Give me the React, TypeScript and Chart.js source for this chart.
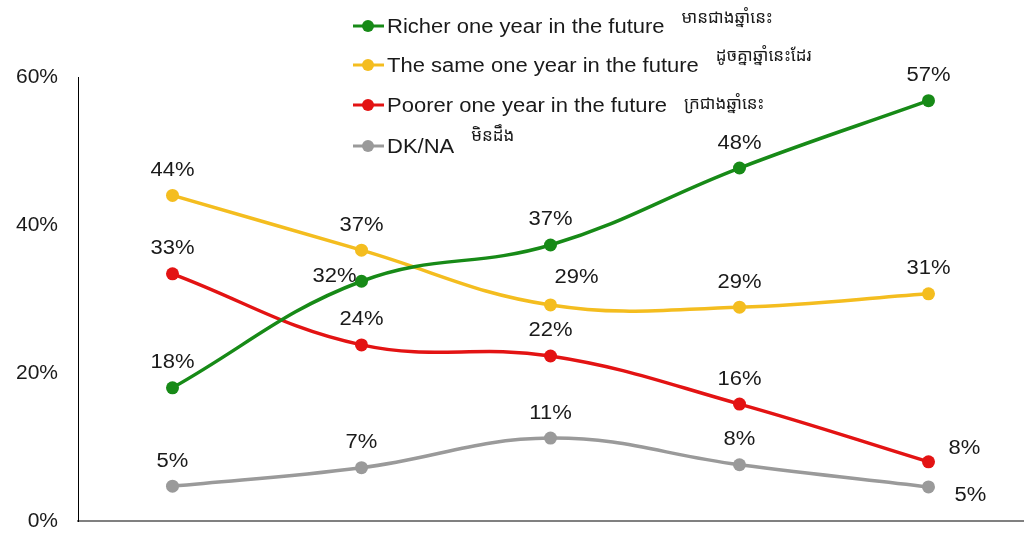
import React, { useEffect, useRef } from "react";
import { Chart, registerables } from "chart.js";

Chart.register(...registerables);

// Survey waves (no labels are printed on the x axis)
const waves = ["Wave 1", "Wave 2", "Wave 3", "Wave 4", "Wave 5"];

const richer = [18, 32.4, 37.3, 47.7, 56.8];
const same = [44, 36.6, 29.2, 28.9, 30.7];
const poorer = [33.4, 23.8, 22.3, 15.8, 8];
const dkna = [4.7, 7.2, 11.2, 7.6, 4.6];

const seriesNames = [
  "Richer one year in the future",
  "The same one year in the future",
  "Poorer one year in the future",
  "DK/NA",
];
const seriesKhmer = ["មានជាងឆ្នាំនេះ", "ដូចគ្នាឆ្នាំនេះដែរ", "ក្រជាងឆ្នាំនេះ", "មិនដឹង"];
const seriesColors = ["#178a17", "#f4bd1f", "#e31313", "#9a9a9a"];

const yTicks = [0, 20, 40, 60];

const FONT = "'Liberation Sans', Arial, Helvetica, sans-serif";
const KHMER_FONT = "'Noto Sans Khmer', 'Khmer OS', 'Noto Sans', sans-serif";
const SX = 1.1; // the reference text is a bit wider than Arial

// label nudges (dx, dy from the point) where the default "above" would collide
const labelNudge: Record<string, [number, number]> = {
  "0-1": [-27, -5],
  "1-2": [26, -27],
  "2-4": [36, -13],
  "3-4": [42, 9],
};

function wideText(ctx: CanvasRenderingContext2D, text: string, x: number, y: number, align: CanvasTextAlign) {
  ctx.save();
  ctx.translate(x, y);
  ctx.scale(SX, 1);
  ctx.textAlign = align;
  ctx.fillText(text, 0, 0);
  ctx.restore();
}

const labelsPlugin = {
  id: "pointLabels",
  afterDatasetsDraw(chart: Chart) {
    const ctx = chart.ctx;
    ctx.save();
    ctx.font = `20px ${FONT}`;
    ctx.fillStyle = "#1a1a1a";
    ctx.textBaseline = "middle";
    chart.data.datasets.forEach((ds, di) => {
      const meta = chart.getDatasetMeta(di);
      meta.data.forEach((pt: any, i) => {
        const v = ds.data[i] as number;
        const [dx, dy] = labelNudge[`${di}-${i}`] || [0, -25];
        wideText(ctx, `${Math.round(v)}%`, pt.x + dx, pt.y + dy, "center");
      });
    });
    ctx.restore();
  },
};

const legendPlugin = {
  id: "sideLegend",
  afterDraw(chart: Chart) {
    const ctx = chart.ctx;
    const baselines = [33, 72, 112, 153];
    const khmerLift = [-15, -16, -8, -17];
    ctx.save();
    seriesNames.forEach((name, i) => {
      const base = baselines[i];
      const cy = base - 7;
      ctx.strokeStyle = seriesColors[i];
      ctx.fillStyle = seriesColors[i];
      ctx.lineWidth = 3;
      ctx.beginPath();
      ctx.moveTo(353, cy);
      ctx.lineTo(384, cy);
      ctx.stroke();
      ctx.beginPath();
      ctx.arc(368, cy, 6, 0, Math.PI * 2);
      ctx.fill();

      ctx.font = `20px ${FONT}`;
      ctx.fillStyle = "#1a1a1a";
      ctx.textBaseline = "alphabetic";
      wideText(ctx, name, 387, base, "left");
      const w = ctx.measureText(name).width * SX;

      ctx.font = `17px ${KHMER_FONT}`;
      ctx.textBaseline = "middle";
      ctx.textAlign = "left";
      ctx.fillText(seriesKhmer[i], 387 + w + 17, base + khmerLift[i]);
    });
    ctx.restore();
  },
};

const App: React.FC = () => {
  const canvasRef = useRef<HTMLCanvasElement | null>(null);
  const chartRef = useRef<Chart | null>(null);

  useEffect(() => {
    document.body.style.margin = "0";
    if (!canvasRef.current) return;
    if (chartRef.current) chartRef.current.destroy();

    const values = [richer, same, poorer, dkna];

    chartRef.current = new Chart(canvasRef.current, {
      type: "line",
      data: {
        labels: waves,
        datasets: values.map((data, i) => ({
          label: seriesNames[i],
          data,
          borderColor: seriesColors[i],
          backgroundColor: seriesColors[i],
          borderWidth: 3.5,
          pointRadius: 6.5,
          pointHoverRadius: 6.5,
          pointBorderWidth: 0,
          tension: 0.4,
          fill: false,
        })),
      },
      options: {
        responsive: true,
        maintainAspectRatio: false,
        animation: false,
        layout: { autoPadding: false, padding: { top: 77, right: 1, bottom: 21, left: 0 } },
        plugins: {
          legend: { display: false },
          tooltip: { enabled: false },
        },
        scales: {
          x: {
            offset: true,
            grid: { display: false, drawTicks: false },
            border: { display: true, color: "#808080", width: 2 },
            ticks: { display: false },
            afterFit: (scale) => {
              scale.height = 0;
            },
          },
          y: {
            min: 0,
            max: 60,
            afterBuildTicks: (scale) => {
              scale.ticks = yTicks.map((v) => ({ value: v }));
            },
            afterFit: (scale: any) => {
              scale.width = 78;
              scale.paddingTop = 0;
              scale.paddingBottom = 0;
            },
            grid: { display: false, drawTicks: false },
            border: { display: true, color: "#000000", width: 1 },
            ticks: {
              padding: 20,
              color: "#1a1a1a",
              font: { family: FONT, size: 21 },
              callback: (v) => `${v}%`,
            },
          },
        },
      },
      plugins: [labelsPlugin, legendPlugin],
    });

    return () => {
      if (chartRef.current) {
        chartRef.current.destroy();
        chartRef.current = null;
      }
    };
  }, []);

  return (
    <div style={{ width: 1024, height: 542, position: "relative", background: "#ffffff" }}>
      <canvas ref={canvasRef}></canvas>
    </div>
  );
};

export default App;
